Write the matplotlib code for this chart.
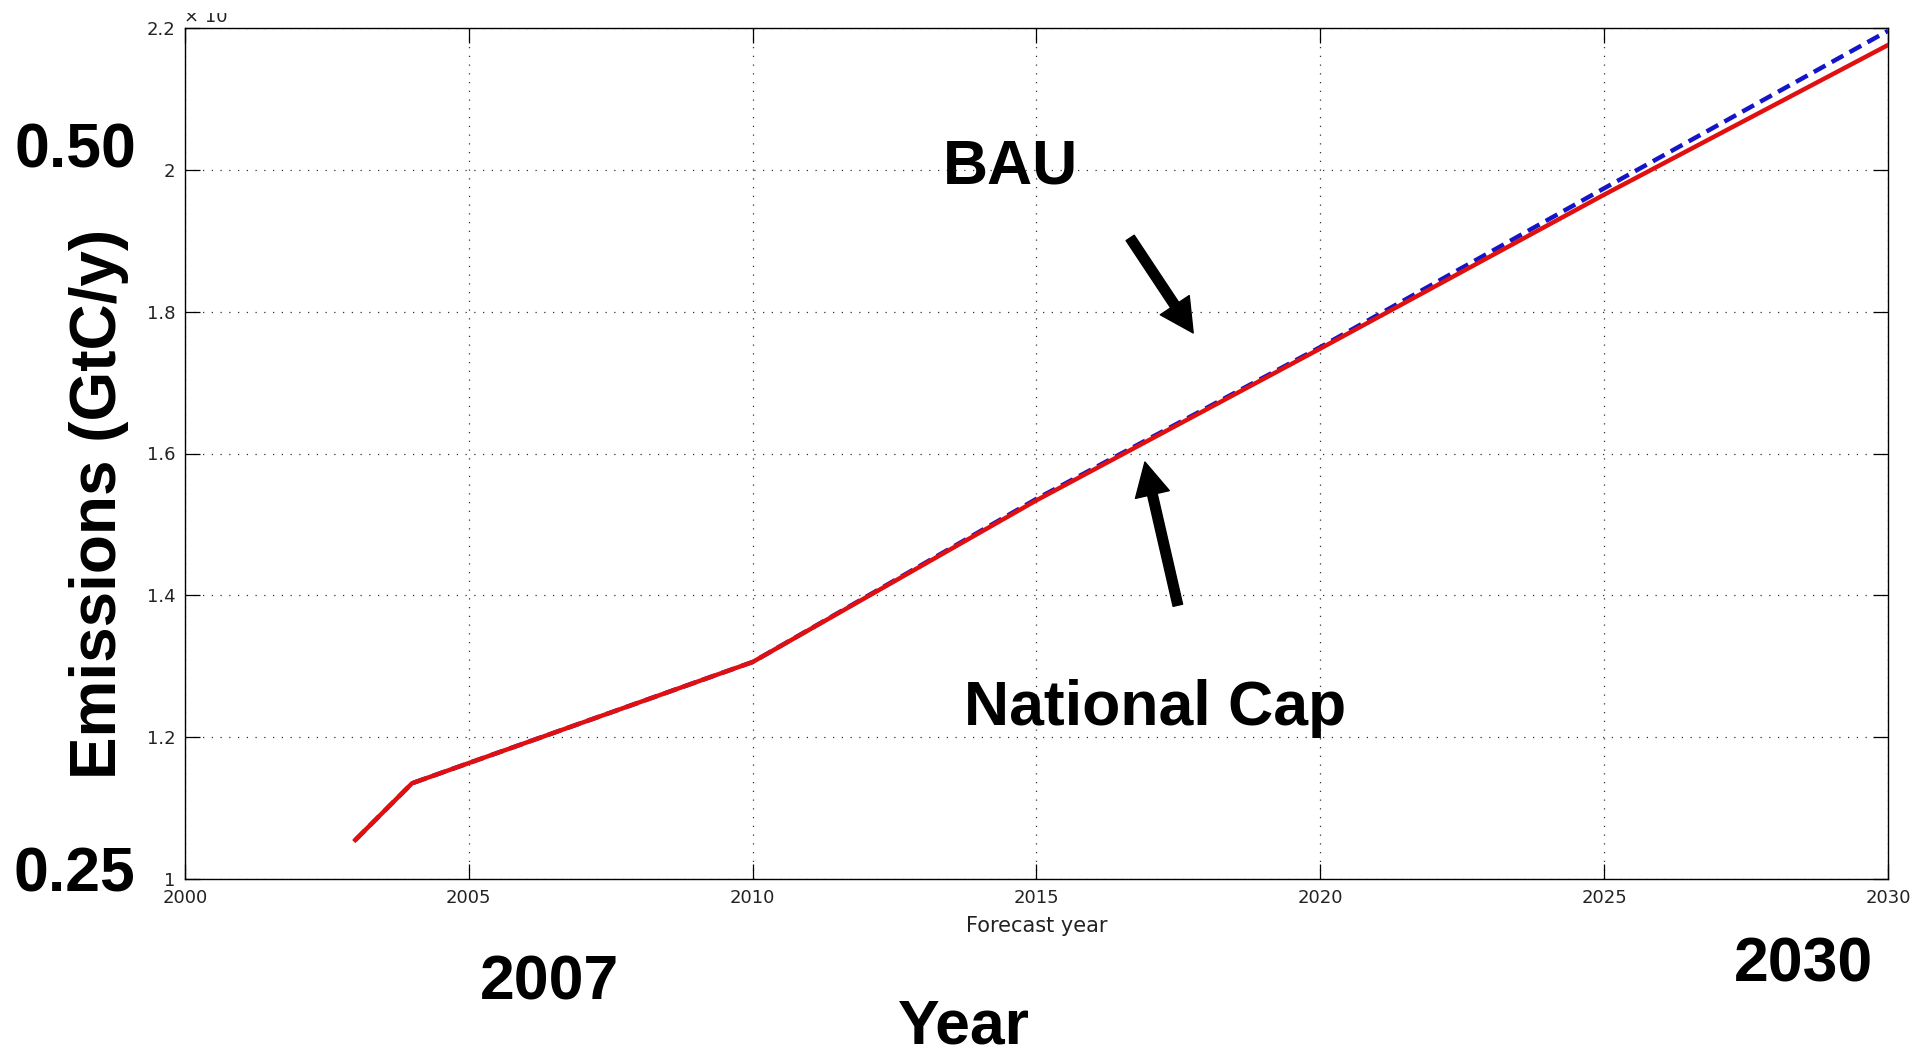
import numpy as np
import matplotlib
matplotlib.use('Agg')
import matplotlib.pyplot as plt
from matplotlib.transforms import Bbox, TransformedBbox

# values
years_cap = [2003, 2004, 2010, 2015, 2020, 2025, 2030]
national_cap = [1.055, 1.135, 1.306, 1.534, 1.748, 1.965, 2.176]

years_bau = [2003, 2004, 2010, 2015, 2020, 2025, 2030]
bau = [1.055, 1.135, 1.306, 1.536, 1.750, 1.974, 2.196]

xticks = [2000, 2005, 2010, 2015, 2020, 2025, 2030]
yticks = [1.0, 1.2, 1.4, 1.6, 1.8, 2.0, 2.2]
ytick_labels = ['1', '1.2', '1.4', '1.6', '1.8', '2', '2.2']

W, H = 1932, 1050

def fx(px):
    return px / W

def fy(py):
    return 1 - py / H

fig = plt.figure(figsize=(W / 100, H / 100), dpi=100)
ax = fig.add_axes([fx(185), fy(879), fx(1888) - fx(185), fy(28) - fy(879)])

# BAU underneath, national cap on top
ax.plot(years_bau, bau, color='#1414c8', lw=3.2, linestyle=(0, (3, 1.6)), zorder=3)
ax.plot(years_cap, national_cap, color='#e01010', lw=3.2, zorder=4)

ax.set_xlim(2000, 2030)
ax.set_ylim(1, 2.2)
ax.set_xticks(xticks)
ax.set_yticks(yticks)
ax.set_yticklabels(ytick_labels)

ax.grid(True, color='#333333', linestyle=(0, (1, 6)), lw=0.9)
ax.set_axisbelow(True)
ax.tick_params(direction='in', length=11, width=0.9, top=True, right=True,
               labelsize=13, labelcolor='#222222', pad=7)
for s in ax.spines.values():
    s.set_linewidth(1.0)
    s.set_color('black')

ax.set_xlabel('Forecast year', fontsize=15, color='#222222')
ax.xaxis.set_label_coords(0.5, -0.043)

# exponent marker, top half cut off like in the original
t = fig.text(fx(184), fy(22), '× 10', fontsize=13, color='#222222',
             ha='left', va='baseline')
t.set_clip_on(True)
t.set_clip_box(TransformedBbox(Bbox([[0, 0], [1, fy(13)]]), fig.transFigure))

big = dict(family='Liberation Sans', fontweight='bold', fontsize=45, color='black')

fig.text(fx(99), fy(504), 'Emissions (GtC/y)', rotation=90, ha='center', va='center',
         family='Liberation Sans', fontweight='bold', fontsize=46, color='black')
fig.text(fx(75), fy(167), '0.50', ha='center', va='baseline', **big)
fig.text(fx(74), fy(891), '0.25', ha='center', va='baseline', **big)
fig.text(fx(550), fy(1000), '2007', ha='center', va='baseline', **big)
fig.text(fx(1803), fy(982), '2030', ha='center', va='baseline', **big)
fig.text(fx(964), fy(1043), 'Year', ha='center', va='baseline', **big)
fig.text(fx(1011), fy(183), 'BAU', ha='center', va='baseline', **big)
fig.text(fx(1155), fy(725), 'National Cap', ha='center', va='baseline', **big)

arrow = dict(width=7, headwidth=25, headlength=24, facecolor='black',
             edgecolor='black', shrink=0)
ax.annotate('', xy=(2017.76, 1.770), xytext=(2016.65, 1.904), arrowprops=arrow)
ax.annotate('', xy=(2016.91, 1.588), xytext=(2017.49, 1.386), arrowprops=arrow)

fig.savefig('out.png', dpi=100)
